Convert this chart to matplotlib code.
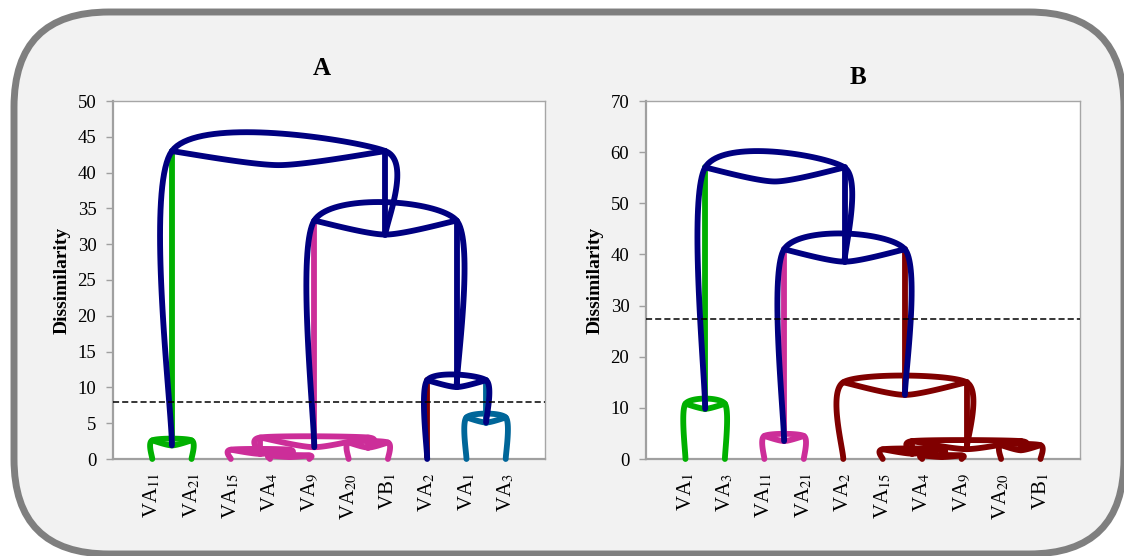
import numpy as np
import matplotlib
matplotlib.use('Agg')
import matplotlib.pyplot as plt
from matplotlib.patches import FancyBboxPatch
from matplotlib.transforms import IdentityTransform

plt.rcParams['font.family'] = ['Liberation Serif', 'DejaVu Serif']
plt.rcParams['mathtext.fontset'] = 'stix'

NAVY = '#000080'
GREEN = '#00b000'
PINK = '#cc2e99'
TEAL = '#006699'
DRED = '#800000'

# ---- panel A ----
labels_a = [r'VA$_{11}$', r'VA$_{21}$', r'VA$_{15}$', r'VA$_{4}$', r'VA$_{9}$',
            r'VA$_{20}$', r'VB$_{1}$', r'VA$_{2}$', r'VA$_{1}$', r'VA$_{3}$']
# merges: children are leaf indices (0-9) or node ids (10+)
left_a = [3, 2, 5, 11, 0, 8, 7, 13, 14]
right_a = [4, 10, 6, 12, 1, 9, 15, 16, 17]
height_a = [0.5, 1.3, 2.3, 3.0, 2.6, 5.8, 11.0, 33.3, 43.0]
color_a = [PINK, PINK, PINK, PINK, GREEN, TEAL, NAVY, NAVY, NAVY]
single_a = {7: DRED}
cut_a = 8.0

# ---- panel B ----
labels_b = [r'VA$_{1}$', r'VA$_{3}$', r'VA$_{11}$', r'VA$_{21}$', r'VA$_{2}$',
            r'VA$_{15}$', r'VA$_{4}$', r'VA$_{9}$', r'VA$_{20}$', r'VB$_{1}$']
left_b = [6, 5, 8, 11, 4, 2, 0, 15, 16]
right_b = [7, 10, 9, 12, 13, 3, 1, 14, 17]
height_b = [0.7, 1.9, 2.7, 3.5, 15.0, 4.5, 10.8, 41.0, 57.0]
color_b = [DRED, DRED, DRED, DRED, DRED, PINK, GREEN, NAVY, NAVY]
single_b = {}
cut_b = 27.3


def smooth(pts, k=1/8., n=40):
    P = np.asarray(pts, float)
    P = np.vstack([P[0], P, P[-1]])
    t = np.linspace(0, 1, n)[:, None]
    out = []
    for i in range(1, len(P) - 2):
        p0, p1, p2, p3 = P[i - 1], P[i], P[i + 1], P[i + 2]
        c1 = p1 + (p2 - p0) * k
        c2 = p2 - (p3 - p1) * k
        out.append((1 - t)**3 * p1 + 3 * (1 - t)**2 * t * c1
                   + 3 * (1 - t) * t**2 * c2 + t**3 * p2)
    return np.vstack(out)


def draw_tree(ax, labels, left, right, height, colors, singles):
    n = len(labels)
    T = ax.transData
    Ti = T.inverted()
    xs = {i: float(i + 1) for i in range(n)}
    base = {i: 0.0 for i in range(n)}  # y where a link from this child starts
    cols = {}
    parent_h = {}
    for l, r, h in zip(left, right, height):
        parent_h[l] = h
        parent_h[r] = h
    y0 = T.transform([(0, 0)])[0][1]
    for j, (l, r, h, c) in enumerate(zip(left, right, height, colors)):
        node = n + j
        xl, xr = xs[l], xs[r]
        xc = (xl + xr) / 2
        pl = T.transform([(xl, base[l]), (xl, h)])
        pr = T.transform([(xr, h), (xr, base[r])])
        ptop = T.transform([(xc, h)])[0]
        span = pr[0][0] - pl[0][0]
        dip = min(14.0, 0.09 * span + 1.5, 0.45 * (ptop[1] - y0))
        z = 4 if c == NAVY else 3
        arc = smooth([pl[0], pl[1], pr[0], pr[1]])
        dipc = smooth([pl[1], (ptop[0], ptop[1] - dip), pr[0]])
        for seg in (arc, dipc):
            d = Ti.transform(seg)
            ax.plot(d[:, 0], d[:, 1], color=c, lw=4.2, solid_capstyle='round',
                    zorder=z, clip_on=False)
        xs[node] = xc
        base[node] = Ti.transform([(ptop[0], ptop[1] - dip)])[0][1]
        cols[node] = c
    # stems drawn in the child's own colour
    for child, H in parent_h.items():
        c = cols.get(child, singles.get(child))
        if c is None:
            continue
        z = 4 if c == NAVY else 3
        ax.plot([xs[child], xs[child]], [base[child], H], color=c, lw=4.2,
                solid_capstyle='round', zorder=z - 0.5)


def setup(ax, labels, ymax, step, title, cut, title_x, title_y):
    ax.set_xlim(0, len(labels) + 1)
    ax.set_ylim(0, ymax)
    ax.set_yticks(np.arange(0, ymax + 1, step))
    ax.set_xticks(np.arange(1, len(labels) + 1))
    ax.set_xticklabels(labels, rotation=90, fontsize=15)
    ax.tick_params(axis='x', length=0, pad=10)
    ax.tick_params(axis='y', length=5, color='#a0a0a0', labelsize=13.5, pad=7,
                   width=1)
    for s in ('left', 'bottom'):
        ax.spines[s].set_color('#a0a0a0')
        ax.spines[s].set_linewidth(1.6)
    for s in ('top', 'right'):
        ax.spines[s].set_color('#a6a6a6')
        ax.spines[s].set_linewidth(1.0)
    ax.set_ylabel('Dissimilarity', fontsize=14, fontweight='bold', labelpad=5)
    ax.axhline(cut, color='black', lw=1.1, ls=(0, (4, 2)), zorder=5)
    ax.set_title(title, fontsize=18, fontweight='bold', x=title_x, y=title_y)


fig = plt.figure(figsize=(11.24, 5.56), dpi=100)
fig.patch.set_facecolor('white')
box = FancyBboxPatch((14, 2), 1110, 542, boxstyle='round,pad=0,rounding_size=95',
                     transform=IdentityTransform(), facecolor='#f2f2f2',
                     edgecolor='#7f7f7f', linewidth=5, zorder=-1)
fig.patches.append(box)

W, H = 1124., 556.
ax_a = fig.add_axes([113 / W, (H - 459) / H, 432 / W, 358 / H])
ax_b = fig.add_axes([646 / W, (H - 459) / H, 434 / W, 358 / H])

setup(ax_a, labels_a, 50, 5, 'A', cut_a, 0.484, 1.05)
setup(ax_b, labels_b, 70, 10, 'B', cut_b, 0.488, 1.025)
draw_tree(ax_a, labels_a, left_a, right_a, height_a, color_a, single_a)
draw_tree(ax_b, labels_b, left_b, right_b, height_b, color_b, single_b)

fig.savefig('out.png', dpi=100)
